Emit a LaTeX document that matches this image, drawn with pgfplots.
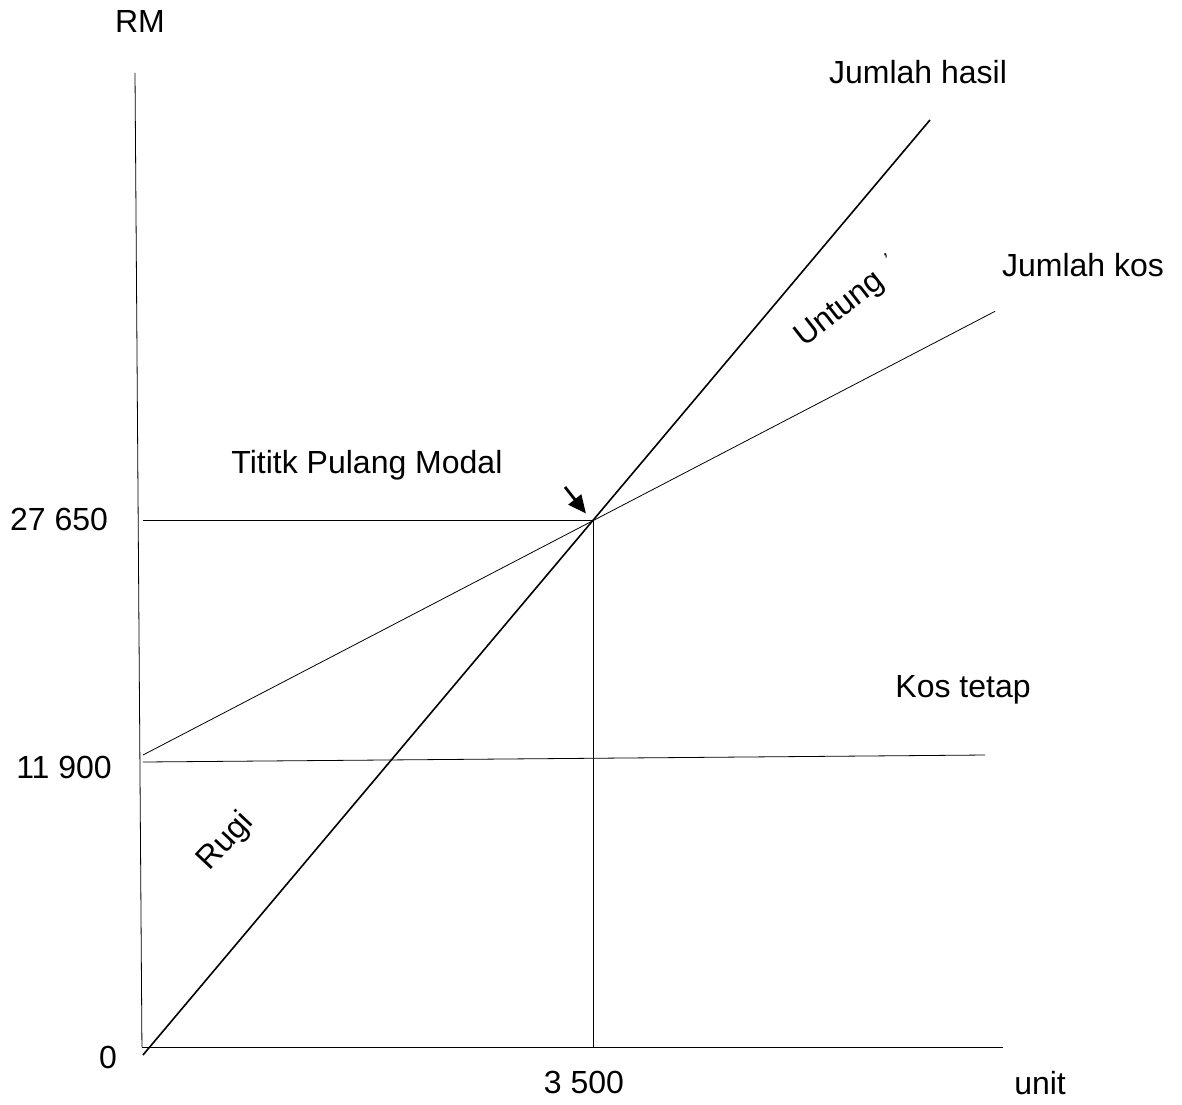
\documentclass[border=0pt]{standalone}
\usepackage{pgfplots}
\pgfplotsset{compat=1.18}
\usepackage{fontspec}
\setmainfont{Liberation Sans}
\usetikzlibrary{arrows.meta}

% drawing is schematic (not to scale); x in units, y in RM, fitted to the sketch
\begin{document}
\begin{tikzpicture}
\begin{axis}[
    width=591pt, height=552pt, scale only axis,
    xmin=-1112, xmax=8081, ymin=-2990, ymax=54933,
    hide axis, clip=false,
    cycle list={{black, solid, line width=0.8pt, mark=none}},
    nodes={font=\fontsize{16}{19}\selectfont},
  ]
  % axes
  \addplot coordinates {(-62,51103) (-8,0)};
  \addplot coordinates {(-8,0) (6689,0)};
  % Jumlah hasil
  \addplot coordinates {(0,-420) (6121,48640)};
  % Jumlah kos
  \addplot coordinates {(0,15320) (6627,38600)};
  % Kos tetap
  \addplot coordinates {(0,14953) (6549,15320)};
  % titik pulang modal guides
  \addplot coordinates {(0,27650) (3500,27650) (3500,0)};

  \draw[-{Triangle[length=9pt,width=8pt]}, line width=1.4pt]
    (axis cs:3282,29382) -- (axis cs:3445,27990);

  \node at (axis cs:-23,53779) {RM};
  \node at (axis cs:6028,51155) {Jumlah hasil};
  \node at (axis cs:7311,41029) {Jumlah kos};
  \node[rotate=38] at (axis cs:5421,38668) {Untung};
  \node[rotate=20, font=\fontsize{10}{12}\selectfont] at (axis cs:5790,41300) {'};
  \node at (axis cs:1742,30536) {Tititk Pulang Modal};
  \node at (axis cs:6378,18731) {Kos tetap};
  \node[rotate=47] at (axis cs:646,10756) {Rugi};
  \node at (axis cs:-653,27702) {27 650};
  \node at (axis cs:-614,14640) {11 900};
  \node at (axis cs:-272,-525) {0};
  \node at (axis cs:3430,-1836) {3 500};
  \node at (axis cs:6977,-1888) {unit};
\end{axis}
\pgfresetboundingbox
\path (current axis.south west) rectangle (current axis.north east);
\end{tikzpicture}
\end{document}
